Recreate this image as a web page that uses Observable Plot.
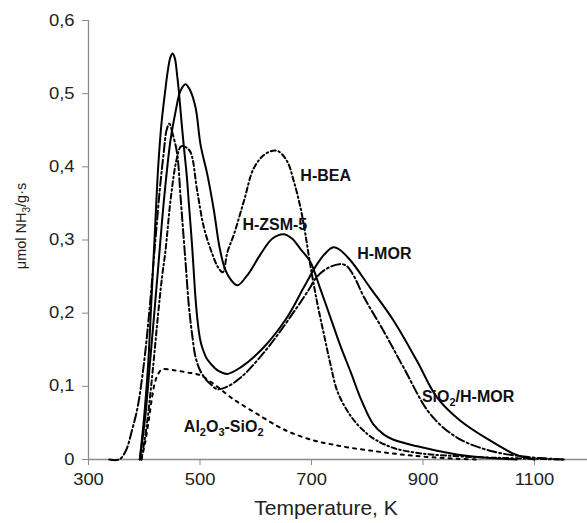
<!DOCTYPE html>
<html>
<head>
<meta charset="utf-8">
<script src="https://cdn.jsdelivr.net/npm/d3@7"></script>
<script src="https://cdn.jsdelivr.net/npm/@observablehq/plot@0.6"></script>
<style>
  body { margin: 0; background: #fff; }
  #wrap { position: relative; width: 587px; height: 523px; }
  #edge { position: absolute; left: 8px; top: 12px; width: 1.5px; height: 255px; background: #000; }
</style>
</head>
<body>
<div id="wrap"><div id="edge"></div></div>
<script>
// H-MOR (solid)
const HMOR_T = [392,400,407,413,419,425,431,437,442,447,451,455,459,462,467,472,476,480,486,491,495,500,504,512,519,533,549,573,614,656,686,710,725,739,750,770,805,847,889,925,967,1020,1062,1086,1100];
const HMOR_V = [0,0.06,0.13,0.22,0.31,0.40,0.46,0.50,0.53,0.55,0.555,0.548,0.525,0.504,0.46,0.42,0.39,0.35,0.29,0.23,0.194,0.165,0.153,0.138,0.131,0.121,0.117,0.126,0.153,0.194,0.235,0.267,0.282,0.29,0.287,0.272,0.235,0.19,0.135,0.085,0.053,0.026,0.008,0.002,0];
// H-ZSM-5 (solid)
const ZSM5_T = [392,402,410,418,426,436,447,456,465,474,482,492,501,513,525,535,545,556,567,585,609,630,650,665,680,698,715,734,752,770,790,811,830,847,890,925,967,1020,1068];
const ZSM5_V = [0,0.06,0.13,0.2,0.272,0.36,0.436,0.475,0.504,0.513,0.505,0.481,0.43,0.39,0.34,0.29,0.26,0.245,0.238,0.252,0.281,0.302,0.308,0.302,0.288,0.27,0.235,0.194,0.155,0.12,0.08,0.048,0.034,0.027,0.018,0.012,0.006,0.002,0];
// H-BEA (dash-dot)
const BEA_T = [395,405,415,425,432,438,448,458,466,474,483,495,507,522,533,541,549,561,579,597,618,638,656,668,680,689,698,710,722,734,746,763,781,800,817,850,900,950,1000,1050,1150];
const BEA_V = [0,0.05,0.12,0.2,0.25,0.285,0.36,0.41,0.428,0.427,0.42,0.367,0.317,0.281,0.262,0.256,0.283,0.308,0.354,0.399,0.418,0.422,0.408,0.381,0.345,0.308,0.265,0.215,0.172,0.13,0.094,0.068,0.049,0.035,0.026,0.015,0.008,0.005,0.003,0.002,0];
// SiO2/H-MOR (long dash-dot)
const SIMOR_T = [337,355,367,378,388,400,410,420,428,435,440,445,451,459,465,470,475,480,486,492,500,510,519,531,550,573,600,632,674,695,710,730,750,762,775,794,829,865,913,961,1020,1080,1155];
const SIMOR_V = [0,0,0.012,0.04,0.071,0.135,0.21,0.3,0.37,0.42,0.45,0.459,0.445,0.418,0.36,0.31,0.26,0.21,0.17,0.14,0.122,0.11,0.103,0.096,0.1,0.112,0.133,0.163,0.208,0.232,0.25,0.262,0.267,0.265,0.252,0.222,0.176,0.126,0.062,0.03,0.012,0.004,0];
// Al2O3-SiO2 (dotted)
const AL_T = [395,401,408,414,419,425,432,453,477,501,530,555,573,603,638,662,704,734,770,817,860,900,960,1000];
const AL_V = [0,0.021,0.053,0.085,0.105,0.117,0.123,0.122,0.119,0.115,0.1,0.085,0.076,0.062,0.046,0.037,0.026,0.021,0.016,0.011,0.007,0.004,0.001,0];

// Curve labels ("_" marks a subscript digit)
const labelText = ["H-BEA", "H-ZSM-5", "H-MOR", "SiO_2/H-MOR", "Al_2O_3-SiO_2"];
const labelT = [680, 576, 782, 898, 471];
const labelV = [0.388, 0.320, 0.281, 0.085, 0.044];

// Axes
const xTicks = [300, 500, 700, 900, 1100];
const yTicks = [0, 0.1, 0.2, 0.3, 0.4, 0.5, 0.6];
const xTitle = "Temperature, K";
const yTitle = "μmol NH_3/g·s";

const toRows = (T, V) => T.map((t, i) => ({t, v: V[i]}));
const labels = labelText.map((s, i) => ({s, t: labelT[i], v: labelV[i]}));

const lineOpts = {x: "t", y: "v", stroke: "#000", strokeWidth: 2, curve: "catmull-rom"};

const svg = Plot.plot({
  width: 587,
  height: 523,
  marginLeft: 88,
  marginRight: 0,
  marginTop: 20,
  marginBottom: 64,
  style: {fontFamily: "'Liberation Sans', Arial, sans-serif", fontSize: "16px", color: "#222", background: "#fff"},
  x: {domain: [300, 1195], label: null},
  y: {domain: [0, 0.6], label: null},
  marks: [
    Plot.ruleY([0], {stroke: "#8a8a8a", strokeWidth: 1.3}),
    Plot.ruleX([300], {y1: 0, y2: 0.6, stroke: "#8a8a8a", strokeWidth: 1.3}),
    Plot.axisX({ticks: xTicks, tickSize: 6, tickPadding: 8, stroke: "#8a8a8a", fill: "#222", tickFormat: d => String(d), label: null, fontSize: 16}),
    Plot.axisY({ticks: yTicks, tickSize: 6, tickPadding: 8, stroke: "#8a8a8a", fill: "#222", tickFormat: d => d === 0 ? "0" : d.toFixed(1).replace(".", ","), label: null, fontSize: 16}),
    Plot.line(toRows(AL_T, AL_V), {...lineOpts, strokeWidth: 2, strokeDasharray: "3,5"}),
    Plot.line(toRows(SIMOR_T, SIMOR_V), {...lineOpts, strokeDasharray: "9,3,2,3"}),
    Plot.line(toRows(BEA_T, BEA_V), {...lineOpts, strokeDasharray: "5,3,1.5,3"}),
    Plot.line(toRows(ZSM5_T, ZSM5_V), lineOpts),
    Plot.line(toRows(HMOR_T, HMOR_V), lineOpts),
    Plot.text(labels, {x: "t", y: "v", text: "s", textAnchor: "start", lineAnchor: "middle", fontWeight: "bold", fontSize: 16, fill: "#111"}),
    Plot.text([xTitle], {frameAnchor: "bottom", dx: -12, dy: 49, lineAnchor: "middle", fontSize: 21, fill: "#222"}),
    Plot.text([yTitle], {frameAnchor: "left", rotate: -90, lineAnchor: "middle", fontSize: 14.5, fill: "#222"})
  ]
});

document.getElementById("wrap").appendChild(svg);
svg.style.position = "absolute";
svg.style.left = "0px";
svg.style.top = "0px";

// Subscripts
const NS = "http://www.w3.org/2000/svg";
svg.querySelectorAll("text").forEach(el => {
  const str = el.textContent;
  if (!str.includes("_")) return;
  const fs = parseFloat(el.getAttribute("font-size") || getComputedStyle(el).fontSize) || 16;
  const shift = Math.round(fs * 0.28);
  const parts = str.split(/_(\d)/);
  while (el.firstChild) el.removeChild(el.firstChild);
  let prevSub = false;
  parts.forEach((p, i) => {
    if (p === "") return;
    const ts = document.createElementNS(NS, "tspan");
    ts.textContent = p;
    if (i % 2 === 1) {
      ts.setAttribute("font-size", Math.round(fs * 0.7));
      ts.setAttribute("dy", shift);
      prevSub = true;
    } else if (prevSub) {
      ts.setAttribute("dy", -shift);
      prevSub = false;
    }
    el.appendChild(ts);
  });
});

// Move the rotated y title so that its centre sits where the source has it
svg.querySelectorAll("text").forEach(el => {
  if (!el.textContent.startsWith("μmol")) return;
  const r = el.getBoundingClientRect();
  const s = svg.getBoundingClientRect();
  const cx = r.left - s.left + r.width / 2, cy = r.top - s.top + r.height / 2;
  const g = document.createElementNS(NS, "g");
  g.setAttribute("transform", `translate(${(22 - cx).toFixed(1)},${(226 - cy).toFixed(1)})`);
  el.parentNode.insertBefore(g, el);
  g.appendChild(el);
});

// Slight horizontal widening of text, as in the source figure
function stretch(sel, k) {
  svg.querySelectorAll(sel).forEach(el => {
    const w = el.getComputedTextLength();
    if (w > 0) {
      el.setAttribute("textLength", (w * k).toFixed(1));
      el.setAttribute("lengthAdjust", "spacingAndGlyphs");
    }
  });
}
stretch('g[aria-label="x-axis tick label"] text, g[aria-label="y-axis tick label"] text', 1.15);
</script>
</body>
</html>
